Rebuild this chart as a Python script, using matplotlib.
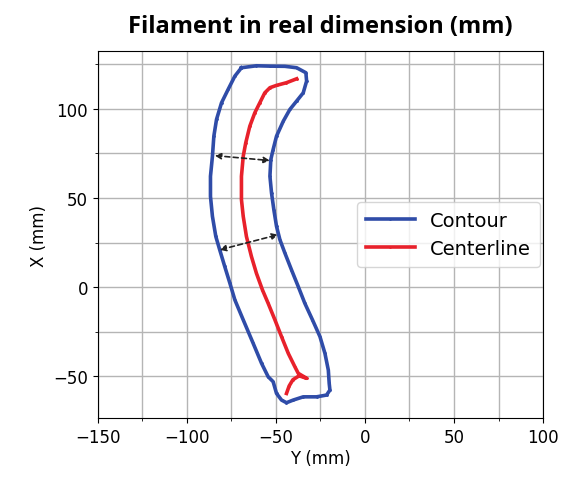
import matplotlib
matplotlib.use('Agg')
import matplotlib.pyplot as plt
from matplotlib.ticker import MultipleLocator

# contour of the filament (Y, X) in mm
contour_y = [-69.4, -61.0, -53.4, -45.0, -38.4, -33.2, -32.8, -34.7, -38.4, -42.2, -45.9, -49.7,
             -51.6, -52.9, -53.4, -52.5, -51.2, -49.7, -47.8, -45.0, -41.3, -37.5,
             -33.8, -29.5, -25.3, -22.5, -20.6, -20.1, -19.7, -21.6, -27.2, -34.7,
             -40.3, -44.1, -46.9, -49.7, -51.6, -54.4, -58.1, -62.8, -68.4, -73.1,
             -75.9, -78.8, -81.6, -83.8, -85.7, -86.8, -86.8, -85.7, -84.9, -83.4,
             -80.6, -76.9, -73.1, -69.4]
contour_x = [123.1, 124.2, 124.0, 123.9, 123.1, 120.3, 115.6, 109.0, 104.4, 99.7, 93.1, 84.7,
             77.2, 71.6, 62.2, 52.8, 43.4, 34.1, 26.6, 19.1, 9.7, 0.3,
             -9.1, -18.4, -27.8, -37.2, -46.6, -54.1, -57.8, -60.6, -61.6, -61.6,
             -63.4, -64.9, -63.4, -59.7, -53.1, -50.3, -42.8, -31.6, -18.4, -7.2,
             2.2, 11.6, 20.9, 28.4, 39.7, 50.9, 62.2, 73.4, 84.7, 94.1,
             103.4, 110.9, 118.4, 123.1]

# centerline (Y, X) in mm
center_y = [-38.4, -44.1, -49.7, -53.4, -56.3, -59.1, -61.9, -64.7, -67.0, -68.4,
            -69.4, -69.4, -68.4, -66.6, -63.8, -61.0, -57.6, -54.4, -50.6, -46.9,
            -43.1, -39.4, -37.5, -32.8, -37.0, -40.5, -42.6, -44.1]
center_x = [116.9, 114.7, 113.2, 111.9, 109.0, 103.4, 97.8, 90.3, 80.9, 73.4,
            62.2, 49.1, 39.7, 28.4, 17.2, 7.8, -1.6, -9.1, -18.4, -27.8,
            -37.2, -44.7, -48.4, -51.2, -49.8, -52.0, -55.5, -59.7]

# width arrows: (y_start, x_start, y_end, x_end)
arrows = [(-84.4, 73.8, -53.4, 71.0),
          (-81.6, 20.9, -48.8, 29.4)]

fig = plt.figure(figsize=(5.63, 4.85), dpi=100)
ax = fig.add_axes([0.174, 0.136, 0.7905, 0.7568])

ax.plot(contour_y, contour_x, color='#2f4ca8', lw=2.6, marker='.', markersize=2,
        label='Contour', zorder=3, solid_joinstyle='round')
ax.plot(center_y, center_x, color='#e8212b', lw=2.6, marker='.', markersize=2,
        label='Centerline', zorder=4, solid_joinstyle='round')

for y0, x0, y1, x1 in arrows:
    ax.annotate('', xy=(y1, x1), xytext=(y0, x0),
                arrowprops=dict(arrowstyle='<|-|>', linestyle=(0, (3, 2)), lw=1.2,
                                color='#222222', mutation_scale=9,
                                shrinkA=0, shrinkB=0), zorder=5)

ax.set_xlim(-150, 100)
ax.set_ylim(-73.5, 132.5)
ax.xaxis.set_major_locator(MultipleLocator(50))
ax.xaxis.set_minor_locator(MultipleLocator(25))
ax.yaxis.set_major_locator(MultipleLocator(50))
ax.yaxis.set_minor_locator(MultipleLocator(25))
ax.grid(True, which='both', color='#b5b5b5', lw=1.0)
ax.set_axisbelow(True)
ax.tick_params(labelsize=12)

ax.set_xlabel('Y (mm)', fontsize=12, labelpad=2)
ax.set_ylabel('X (mm)', fontsize=12)
ax.set_title('Filament in real dimension (mm)', fontsize=17, fontweight='bold',
             family=['Open Sans', 'DejaVu Sans'], pad=14)

ax.legend(loc='center right', bbox_to_anchor=(0.993, 0.5), borderaxespad=0,
          fontsize=14, handlelength=2.5, labelspacing=0.45, borderpad=0.45)

fig.savefig('out.png', dpi=100)
